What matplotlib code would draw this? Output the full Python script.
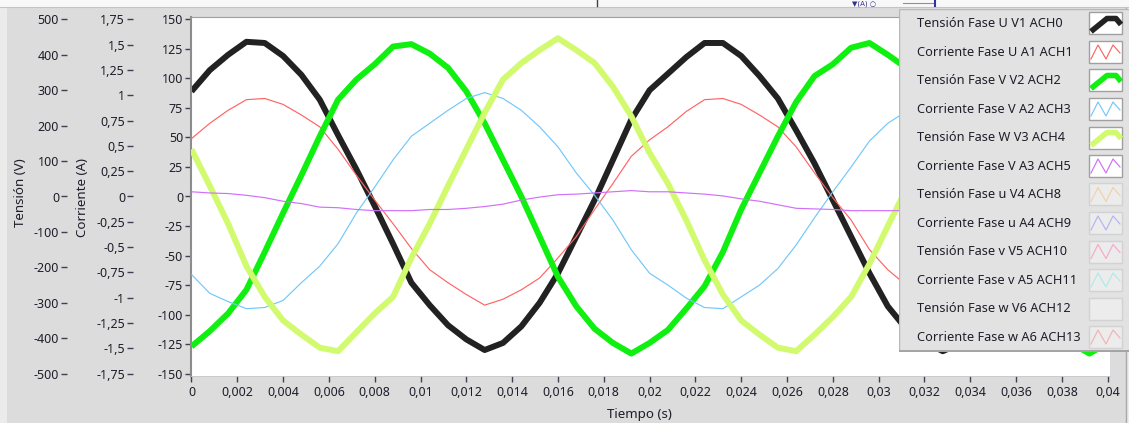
import numpy as np
import matplotlib
matplotlib.use("Agg")
import matplotlib.pyplot as plt
from matplotlib.patches import Rectangle
from matplotlib.ticker import FuncFormatter

plt.rcParams['font.family'] = ['Noto Sans', 'DejaVu Sans']
plt.rcParams['axes.unicode_minus'] = False

# ---------------------------------------------------------------------------
# Acquired samples: 1250 S/s over a 40 ms window (51 samples per channel)
# ---------------------------------------------------------------------------
periodo_muestreo = 0.0008
n_muestras = 51
tiempo = np.arange(n_muestras) * periodo_muestreo

tension_u = [89, 107, 120, 131, 130, 119, 103, 82, 52, 23, -8, -40, -73,
             -92, -109, -121, -130, -124, -110, -90, -65, -34, -3, 31, 65,
             90, 104, 118, 130, 130, 119, 102, 83, 56, 28, -3, -34, -65,
             -93, -112, -123, -131, -124, -110, -90, -65, -34, -3, 31, 65, 90]

corriente_u = [49, 62, 73, 82, 83, 78, 69, 59, 40, 18, -3, -23, -44,
               -62, -73, -83, -92, -87, -79, -69, -52, -34, -11, 11, 34,
               48, 59, 72, 82, 83, 78, 69, 59, 42, 20, -1, -20, -45,
               -62, -75, -83, -92, -87, -79, -69, -52, -34, -11, 11, 34, 48]

tension_v = [-127, -114, -99, -79, -47, -14, 18, 51, 82, 99, 112, 127, 129,
             121, 109, 89, 62, 31, 0, -34, -68, -93, -112, -124, -133,
             -124, -113, -95, -76, -47, -11, 20, 51, 80, 102, 112, 126, 130,
             120, 109, 89, 62, 31, 0, -34, -68, -93, -112, -124, -133, -124]

corriente_v = [-66, -82, -89, -95, -94, -88, -73, -59, -40, -14, 8, 31, 51,
               62, 73, 83, 88, 83, 73, 59, 42, 20, 1, -20, -45,
               -65, -75, -86, -94, -95, -85, -75, -61, -41, -18, 4, 25, 47,
               62, 72, 83, 88, 83, 73, 59, 42, 20, 1, -20, -45, -65]

tension_w = [40, 9, -23, -59, -85, -105, -117, -128, -131, -115, -99, -85, -52,
             -23, 9, 40, 71, 99, 113, 124, 134, 124, 113, 93, 68,
             37, 11, -20, -54, -83, -105, -117, -128, -131, -117, -102, -85, -57,
             -25, 6, 40, 71, 99, 113, 124, 134, 124, 113, 93, 68, 37]

corriente_w = [4, 3, 2.5, 1, -1, -4, -6, -9, -9.5, -11, -12, -12, -12,
               -11, -11, -10, -8.5, -6.5, -3, -0.5, 1.5, 2, 3, 4, 5,
               4, 4, 3, 2, 0.5, -2, -4, -7, -10, -10.5, -11, -12, -12,
               -12, -12, -10, -8.5, -6.5, -3, -0.5, 1.5, 2, 3, 4, 5, 4]

nombres_canal = ["Tensión Fase U V1 ACH0", "Corriente Fase U A1 ACH1",
                 "Tensión Fase V V2 ACH2", "Corriente Fase V A2 ACH3",
                 "Tensión Fase W V3 ACH4", "Corriente Fase V A3 ACH5",
                 "Tensión Fase u V4 ACH8", "Corriente Fase u A4 ACH9",
                 "Tensión Fase v V5 ACH10", "Corriente Fase v A5 ACH11",
                 "Tensión Fase w V6 ACH12", "Corriente Fase w A6 ACH13"]

colores_canal = ["#222222", "#ff6464", "#10f010", "#72c8fa", "#d2fa6e", "#d070fa",
                 "#f0d2a6", "#b4b4f4", "#f4aac8", "#aeeaea", None, "#f0b4b4"]

senales = [tension_u, corriente_u, tension_v, corriente_v, tension_w, corriente_w]
gruesa = [True, False, True, False, True, False]

ticks_tiempo = np.round(np.arange(0, 0.0401, 0.002), 3)
ticks_principal = np.arange(-150, 151, 25)
ticks_tension = np.arange(-500, 501, 100)
ticks_corriente = np.arange(-1.75, 1.76, 0.25)

# ---------------------------------------------------------------------------
W, H = 1129, 423
fig = plt.figure(figsize=(W / 100, H / 100), dpi=100, facecolor="#dcdcdc")

fs_ticks = 9.0
fs_titulo = 9.6
fs_leyenda = 9.2
color_txt = "#1e1e2a"


def caja(x0, y0, x1, y1):
    return [x0 / W, 1 - y1 / H, (x1 - x0) / W, (y1 - y0) / H]


def coma(v, _=None):
    s = f"{v:g}"
    if s in ("-0", "-0.0"):
        s = "0"
    return s.replace(".", ",")


# panel decoration layer (pixel coordinates)
fondo = fig.add_axes([0, 0, 1, 1], zorder=-5)
fondo.set_xlim(0, W)
fondo.set_ylim(H, 0)
fondo.axis("off")
fondo.add_patch(Rectangle((0, 0), 7, H, color="#ebebeb", lw=0))
fondo.add_patch(Rectangle((0, 0), W, 7, color="#f8f8f8", lw=0))
fondo.plot([0, W], [7.5, 7.5], color="#c4c4c4", lw=0.8)
fondo.plot([597, 597], [0, 6], color="#404040", lw=1)
fondo.plot([903, 933], [3.5, 3.5], color="#909090", lw=0.8)
fondo.plot([935, 935], [0, 6], color="#3030a0", lw=1.5)
fondo.text(852, 3.5, "▼(A) ○", fontsize=5, color="#303090",
           family=["DejaVu Sans"], va="center")
fondo.plot([1126, 1126], [8, H], color="#a8a8a8", lw=1)
fondo.add_patch(Rectangle((1127, 8), 3, H, color="#ececec", lw=0))

# ---------------------------------------------------------------------------
# main graph
ax = fig.add_axes(caja(191, 17, 1110, 376), facecolor="white")
for i, (serie, g) in enumerate(zip(senales, gruesa)):
    ax.plot(tiempo, serie, color=colores_canal[i], lw=4.3 if g else 0.85,
            solid_joinstyle="round", solid_capstyle="butt", zorder=2 + i)

ax.set_xlim(-0.00002, 0.0401)
ax.set_ylim(-152, 152)
ax.set_xticks(ticks_tiempo)
ax.xaxis.set_major_formatter(FuncFormatter(coma))
ax.set_yticks(ticks_principal)
ax.yaxis.set_major_formatter(FuncFormatter(coma))
ax.tick_params(axis="y", direction="out", length=4.2, width=1, color="#404050",
               labelsize=fs_ticks, labelcolor=color_txt, pad=1.5)
ax.tick_params(axis="x", direction="out", length=4.0, width=1, color="#404050",
               labelsize=fs_ticks, labelcolor=color_txt, pad=3.0)
ax.spines["left"].set_color("#8c8c8c")
ax.spines["left"].set_linewidth(1.5)
ax.spines["top"].set_color("#a0a0a0")
ax.spines["right"].set_visible(False)
ax.spines["bottom"].set_color("#c8c8c8")
ax.spines["bottom"].set_linewidth(0.6)


def eje_extra(offset_px, limite, ticks):
    e = fig.add_axes(ax.get_position(), facecolor="none", zorder=-1)
    for nombre, sp in e.spines.items():
        sp.set_visible(nombre == "left")
    e.spines["left"].set_color("none")
    e.spines["left"].set_position(("outward", offset_px * 0.72))
    e.set_xticks([])
    e.set_ylim(-limite, limite)
    e.set_yticks(ticks)
    e.yaxis.set_major_formatter(FuncFormatter(coma))
    e.tick_params(axis="y", direction="out", length=4.2, width=1, color="#404050",
                  labelsize=fs_ticks, labelcolor=color_txt, pad=1.5)
    return e


eje_extra(124, 152 * 500 / 150, ticks_tension)
eje_extra(58, 152 * 1.75 / 150, ticks_corriente)

fig.text(20 / W, 1 - 193 / H, "Tensión (V)", rotation=90, ha="center", va="center",
         fontsize=fs_titulo, color=color_txt)
fig.text(83 / W, 1 - 197 / H, "Corriente (A)", rotation=90, ha="center", va="center",
         fontsize=fs_titulo, color=color_txt)
fig.text(639 / W, 1 - 414 / H, "Tiempo (s)", ha="center", va="center",
         fontsize=fs_titulo, color=color_txt)

# ---------------------------------------------------------------------------
# plot legend panel
ley = fig.add_axes(caja(899, 9, 1129, 352), zorder=10)
ley.set_xlim(899, 1129)
ley.set_ylim(352, 9)
ley.axis("off")
ley.add_patch(Rectangle((899, 9), 232, 343, facecolor="#e2e2e2",
                        edgecolor="#b8b8b8", lw=1))
ley.plot([900, 1129], [351, 351], color="#9a9a9a", lw=1.2)
fila0, paso = 23.5, 28.5
for i, (nombre, col) in enumerate(zip(nombres_canal, colores_canal)):
    yc = fila0 + i * paso
    ley.text(917, yc, nombre, ha="left", va="center", fontsize=fs_leyenda,
             color=color_txt)
    activo = i < 6
    ley.add_patch(Rectangle((1089, yc - 11), 33, 22,
                            facecolor="white" if activo else "#ececec",
                            edgecolor="#a0a0a0" if activo else "#d2d2d2", lw=1))
    if col is None:
        continue
    if activo and gruesa[i]:
        xs = [1091, 1107, 1116, 1121]
        ys = [yc + 8, yc - 5, yc - 5, yc + 1]
        ley.plot(xs, ys, color=col, lw=4.0, solid_joinstyle="round",
                 solid_capstyle="butt")
    else:
        xs = [1091, 1098, 1106, 1113, 1120]
        ys = [yc + 7, yc - 7, yc + 7, yc - 7, yc + 1]
        ley.plot(xs, ys, color=col, lw=0.85)

fig.savefig("out.png", dpi=100, facecolor=fig.get_facecolor())
